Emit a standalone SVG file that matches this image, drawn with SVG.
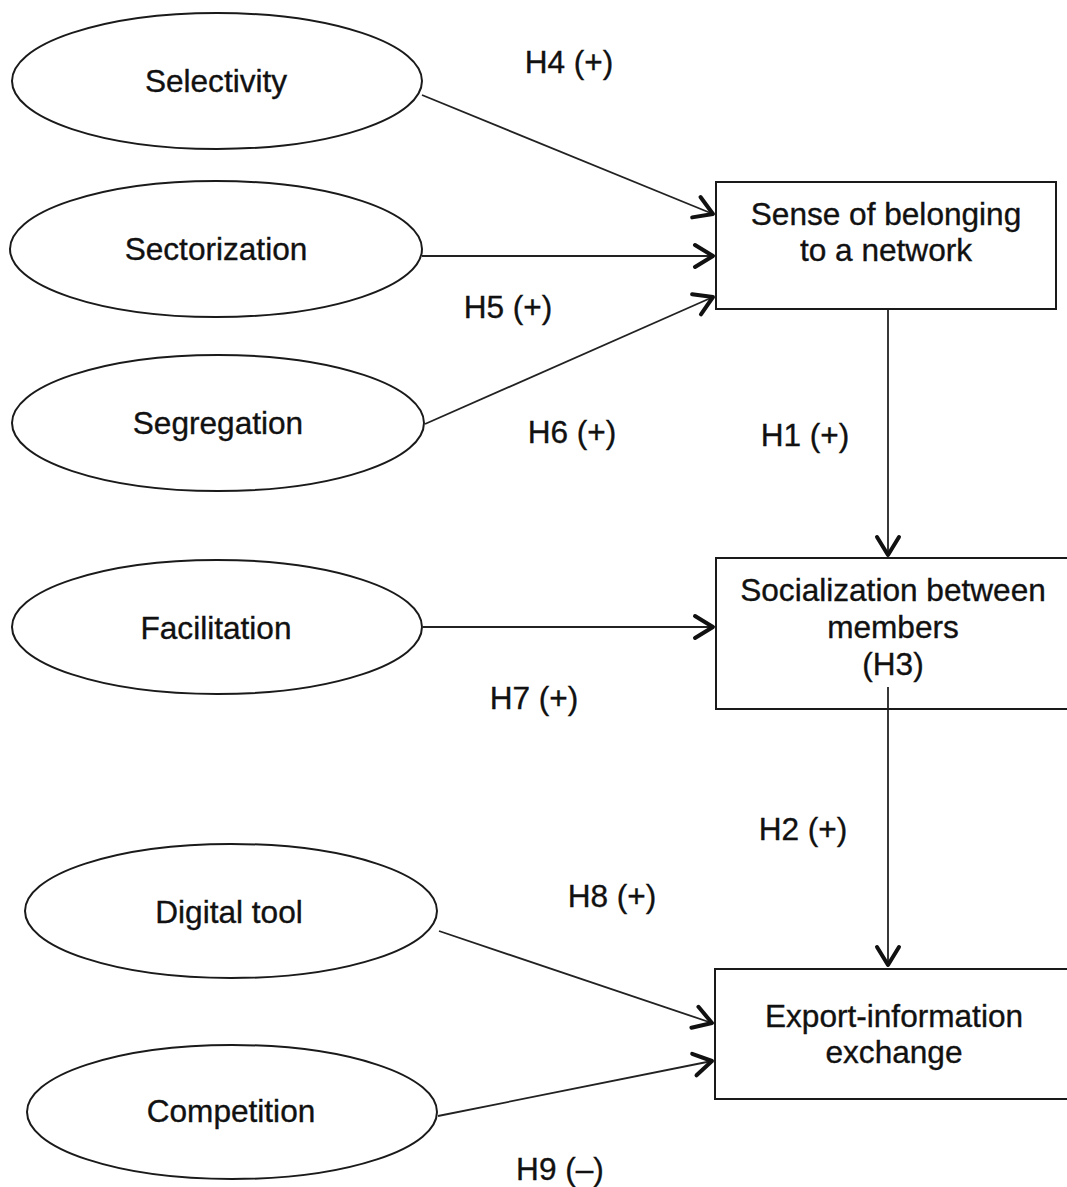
<svg xmlns="http://www.w3.org/2000/svg" width="1067" height="1187" viewBox="0 0 1067 1187">
<defs>
<style>
.el{fill:#fff;stroke:#1a1a1a;stroke-width:2}
.bx{fill:#fff;stroke:#1a1a1a;stroke-width:2}
.t{font-family:"Liberation Sans",Arial,sans-serif;font-size:31.6px;fill:#111;stroke:#111;stroke-width:0.35;text-anchor:middle}
.c{stroke:#222;stroke-width:1.8;fill:none;marker-end:url(#ah)}
</style>
<marker id="ah" viewBox="-22 -14 26 28" markerWidth="26" markerHeight="28" refX="0" refY="0" orient="auto" markerUnits="userSpaceOnUse">
<path d="M-18,-11 L0,0 L-18,11" fill="none" stroke="#111" stroke-width="4" stroke-linecap="round" stroke-linejoin="round"/>
</marker>
</defs>
<rect width="1067" height="1187" fill="#fff"/>
<g id="connectors">
<line class="c" x1="422" y1="95" x2="713" y2="214"/>
<line class="c" x1="422" y1="256" x2="713" y2="256"/>
<line class="c" x1="425" y1="424" x2="713" y2="297"/>
<line class="c" x1="888" y1="309" x2="888" y2="555"/>
<line class="c" x1="423" y1="627" x2="713" y2="627"/>
<line class="c" x1="888" y1="687" x2="888" y2="965"/>
<line class="c" x1="439" y1="931" x2="712" y2="1023"/>
<line class="c" x1="438" y1="1116" x2="712" y2="1061"/>
</g>
<g id="labels">
<text class="t" x="569" y="73">H4 (+)</text>
<text class="t" x="508" y="318">H5 (+)</text>
<text class="t" x="572" y="443">H6 (+)</text>
<text class="t" x="805" y="446">H1 (+)</text>
<text class="t" x="534" y="709">H7 (+)</text>
<text class="t" x="803" y="840">H2 (+)</text>
<text class="t" x="612" y="907">H8 (+)</text>
<text class="t" x="560" y="1180">H9 (–)</text>
</g>
<g id="selectivity"><ellipse class="el" cx="217" cy="81" rx="205" ry="68"/><text class="t" x="216" y="92">Selectivity</text></g>
<g id="sectorization"><ellipse class="el" cx="216" cy="249" rx="206" ry="68"/><text class="t" x="216" y="260">Sectorization</text></g>
<g id="segregation"><ellipse class="el" cx="218" cy="423" rx="206" ry="68"/><text class="t" x="218" y="434">Segregation</text></g>
<g id="facilitation"><ellipse class="el" cx="217" cy="627" rx="205" ry="67"/><text class="t" x="216" y="639">Facilitation</text></g>
<g id="digital-tool"><ellipse class="el" cx="231" cy="911" rx="206" ry="67"/><text class="t" x="229" y="923">Digital tool</text></g>
<g id="competition"><ellipse class="el" cx="232" cy="1112" rx="205" ry="67"/><text class="t" x="231" y="1122">Competition</text></g>
<g id="sense-of-belonging"><rect class="bx" x="716" y="182" width="340" height="127"/><text class="t" x="886" y="225">Sense of belonging</text><text class="t" x="886" y="261">to a network</text></g>
<g id="socialization"><rect class="bx" x="716" y="558" width="360" height="151"/><text class="t" x="893" y="601">Socialization between</text><text class="t" x="893" y="638">members</text><text class="t" x="893" y="675">(H3)</text></g>
<line x1="888" y1="687" x2="888" y2="709" stroke="#222" stroke-width="1.8"/>
<g id="export-information-exchange"><rect class="bx" x="715" y="969" width="360" height="130"/><text class="t" x="894" y="1027">Export-information</text><text class="t" x="894" y="1063">exchange</text></g>
</svg>
